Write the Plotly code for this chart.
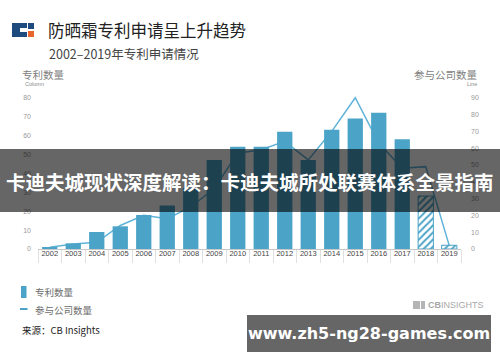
import plotly.graph_objects as go

# ---------------- data ----------------
years = [str(y) for y in range(2002, 2020)]
patents = [1, 3, 9, 12, 18, 23, 32, 47, 54, 54, 62, 47, 63, 69, 72, 58, 28, 2]
companies = [1, 3, 4, 14, 20, 18, 25, 36, 57, 59, 64, 53, 70, 90, 63, 48, 49, 2]
hatched = [False] * 16 + [True, True]          # 2018, 2019 incomplete data
left_ticks = [0, 10, 20, 30, 40, 50, 60, 70, 80]
right_ticks = [0, 10, 20, 30, 40, 50, 60, 70, 80, 90]

title = "防晒霜专利申请呈上升趋势"
subtitle = "2002–2019年专利申请情况"
left_title = "专利数量"
right_title = "参与公司数量"
legend_bar = "专利数量"
legend_line = "参与公司数量"
source = "来源：CB Insights"
banner = "卡迪夫城现状深度解读：卡迪夫城所处联赛体系全景指南"
watermark = "www.zh5-ng28-games.com"

# ---------------- layout helpers ----------------
W, H = 500, 362
L, R, T, B = 38, 39, 83, 113
PW, PH = W - L - R, H - T - B


def px(x):
    return (x - L) / PW


def py(y):
    return (H - B - y) / PH


BAR = "#4ba3c7"
LINE = "#5fb3d8"
CJK = "Noto Sans CJK SC"
NUM = "Liberation Sans"

fig = go.Figure()

# line on primary (right) axis so bars drawn above it
fig.add_trace(go.Scatter(
    x=years, y=companies, mode="lines", yaxis="y", xaxis="x",
    line=dict(color=LINE, width=1.5), hoverinfo="skip", showlegend=False,
))
n = len(years)
fig.add_trace(go.Bar(
    x=years, y=patents, yaxis="y2", xaxis="x", width=0.65,
    marker=dict(
        color=[BAR] * n,
        line=dict(color=BAR, width=[1 if h else 0 for h in hatched]),
        pattern=dict(shape=["/" if h else "" for h in hatched],
                     fillmode="replace",
                     bgcolor=["#ffffff" if h else BAR for h in hatched],
                     fgcolor=[BAR] * n, size=5, solidity=0.4),
    ),
    hoverinfo="skip", showlegend=False,
))

left_max = (H - B - T) / ((249 - 97.7) / 80)
right_max = left_max * 90 / 80

fig.update_layout(
    width=W, height=H,
    margin=dict(l=L, r=R, t=T, b=B, pad=0),
    paper_bgcolor="white", plot_bgcolor="white",
    barmode="overlay",
    xaxis=dict(
        type="category", categoryorder="array", categoryarray=years,
        showgrid=False, zeroline=False,
        showline=True, linecolor="#c8c8c8", linewidth=1,
        ticks="outside", tickson="boundaries", ticklen=13, tickcolor="#e0e0e0",
        tickwidth=1, ticklabelstandoff=-3, tickangle=0,
        tickfont=dict(family=NUM, size=7.5, color="#444"),
        range=[-0.5, len(years) - 0.5],
    ),
    yaxis=dict(
        side="right", range=[0, right_max], showgrid=False, zeroline=False,
        showline=False, tickvals=right_ticks, ticks="", ticklabelstandoff=9,
        tickfont=dict(family=NUM, size=7, color="#9a9a9a"),
    ),
    yaxis2=dict(
        side="left", overlaying="y", range=[0, left_max], showgrid=False,
        zeroline=False, showline=False, tickvals=left_ticks, ticks="",
        ticklabelstandoff=6, tickfont=dict(family=NUM, size=7, color="#9a9a9a"),
    ),
)

shapes = []
ann = []

# logo
shapes += [
    dict(type="rect", xref="paper", yref="paper", x0=px(12), x1=px(27), y0=py(37), y1=py(23),
         fillcolor="#1e4b7d", line=dict(width=0), layer="above"),
    dict(type="rect", xref="paper", yref="paper", x0=px(20), x1=px(27), y0=py(32), y1=py(28),
         fillcolor="white", line=dict(width=0), layer="above"),
    dict(type="rect", xref="paper", yref="paper", x0=px(28), x1=px(34), y0=py(29), y1=py(23),
         fillcolor="#1e4b7d", line=dict(width=0), layer="above"),
    dict(type="rect", xref="paper", yref="paper", x0=px(28), x1=px(34), y0=py(37), y1=py(31),
         fillcolor="#e8652c", line=dict(width=0), layer="above"),
]

ann += [
    dict(text=title, x=px(46), y=py(30), xanchor="left", yanchor="middle",
         font=dict(family=CJK, size=16.5, color="#222")),
    dict(text=subtitle, x=px(47), y=py(53), xanchor="left", yanchor="middle",
         font=dict(family=CJK, size=12.5, color="#444")),
    dict(text=left_title, x=px(20), y=py(74), xanchor="left", yanchor="middle",
         font=dict(family=CJK, size=10.5, color="#808080")),
    dict(text="Column", x=px(23), y=py(84), xanchor="left", yanchor="middle",
         font=dict(family=NUM, size=5.5, color="#8a8a8a")),
    dict(text=right_title, x=px(480), y=py(74), xanchor="right", yanchor="middle",
         font=dict(family=CJK, size=10.5, color="#808080")),
    dict(text="Line", x=px(479), y=py(84), xanchor="right", yanchor="middle",
         font=dict(family=NUM, size=5.5, color="#8a8a8a")),
]

# legend
shapes += [
    dict(type="rect", xref="paper", yref="paper", x0=px(21), x1=px(26.5), y0=py(298), y1=py(286),
         fillcolor=BAR, line=dict(width=0)),
    dict(type="line", xref="paper", yref="paper", x0=px(20), x1=px(27.5), y0=py(309), y1=py(309),
         line=dict(color=BAR, width=2)),
]
ann += [
    dict(text=legend_bar, x=px(33), y=py(292), xanchor="left", yanchor="middle",
         font=dict(family=CJK, size=9.5, color="#6a6a6a")),
    dict(text=legend_line, x=px(33), y=py(309.5), xanchor="left", yanchor="middle",
         font=dict(family=CJK, size=9.5, color="#6a6a6a")),
    dict(text=source, x=px(20), y=py(330), xanchor="left", yanchor="middle",
         font=dict(family=CJK, size=9.5, color="#222")),
]

# CB Insights logo
shapes += [
    dict(type="rect", xref="paper", yref="paper", x0=px(413), x1=px(420), y0=py(309), y1=py(301),
         fillcolor="#b5b5b5", line=dict(width=0)),
    dict(type="rect", xref="paper", yref="paper", x0=px(421), x1=px(425), y0=py(309), y1=py(301),
         fillcolor="#b5b5b5", line=dict(width=0)),
]
ann += [
    dict(text="<b>CB</b>INSIGHTS", x=px(426), y=py(305), xanchor="left", yanchor="middle",
         font=dict(family=NUM, size=9, color="#a8a8a8")),
]

# dark banner overlay
shapes.append(dict(type="rect", xref="paper", yref="paper", x0=px(-5), x1=px(505),
                   y0=py(212), y1=py(149), fillcolor="rgba(0,0,0,0.6)",
                   line=dict(width=0), layer="above"))
ann.append(dict(text="<b>" + banner + "</b>", x=px(250), y=py(181), xanchor="center",
                yanchor="middle", font=dict(family=CJK, size=19.5, color="white")))

# watermark box
shapes.append(dict(type="rect", xref="paper", yref="paper", x0=px(247), x1=px(491),
                   y0=py(352), y1=py(315), fillcolor="#666666",
                   line=dict(width=0), layer="above"))
ann.append(dict(text="<b>" + watermark + "</b>", x=px(369), y=py(333.5), xanchor="center",
                yanchor="middle", font=dict(family="DejaVu Sans", size=16, color="white")))

for a in ann:
    a.update(xref="paper", yref="paper", showarrow=False)

fig.update_layout(shapes=shapes, annotations=ann)
fig.write_html("out.html", config={"displayModeBar": False},
               post_script="document.body.style.margin='0px';document.body.style.padding='0px';")
